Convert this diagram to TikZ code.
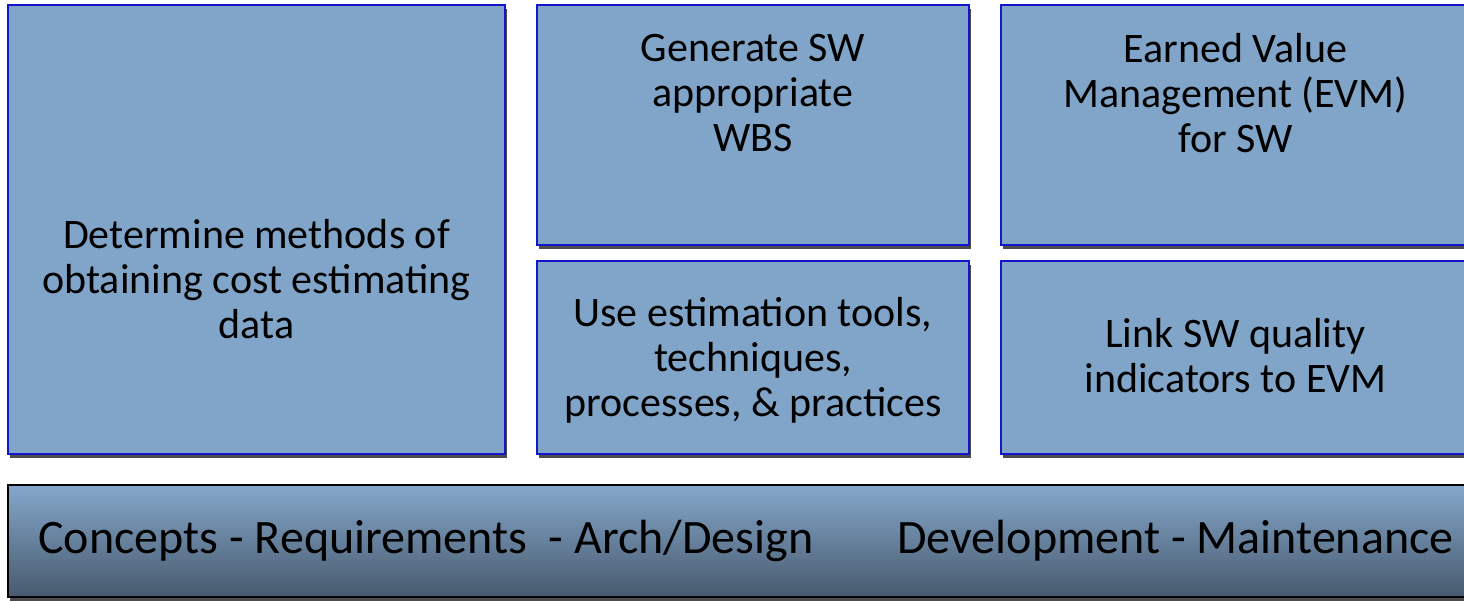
\documentclass[tikz,border=0pt]{standalone}
\usepackage{fontspec}
\setmainfont{Carlito}
\usetikzlibrary{shadows}

\definecolor{boxfill}{RGB}{128,165,200}
\definecolor{boxline}{RGB}{20,20,205}
\definecolor{bandtop}{RGB}{132,167,202}
\definecolor{bandbot}{RGB}{72,90,110}

\tikzset{
  block/.style={draw=boxline, line width=1pt, fill=boxfill, inner sep=0pt,
    drop shadow={shadow xshift=1pt, shadow yshift=-1.8pt, fill=black!70, opacity=1}},
  band/.style={draw=black, line width=1pt, top color=bandtop, bottom color=bandbot, inner sep=0pt,
    drop shadow={shadow xshift=1pt, shadow yshift=-1.8pt, fill=black!70, opacity=1}},
  label/.style={align=center, font=\fontsize{21}{22.5}\selectfont, inner sep=0pt},
  bandlabel/.style={anchor=west, font=\fontsize{24}{28}\selectfont, inner sep=0pt}
}

\begin{document}
\begin{tikzpicture}[x=0.5pt,y=0.5pt,yscale=-1,xscale=1]
\clip (0,0) rectangle (1464,601);
\fill[white] (0,0) rectangle (1464,601);

% boxes
\node[block, minimum width=248.5pt, minimum height=224.5pt] (determine) at (256.5,229.5) {};
\node[block, minimum width=216pt, minimum height=120pt] (wbs) at (753,125) {};
\node[block, minimum width=216pt, minimum height=96.5pt] (tools) at (753,357.5) {};
\node[block, minimum width=234.5pt, minimum height=120pt] (evm) at (1235.5,125) {};
\node[block, minimum width=234.5pt, minimum height=96.5pt] (quality) at (1235.5,357.5) {};
\node[band, minimum width=731pt, minimum height=56pt] (phases) at (739,541) {};

% Text Node
\node[label] (determinetext) at ([yshift=25pt]determine.center) {Determine methods of\\obtaining cost estimating\\data};
% Text Node
\node[label] (wbstext) at ([yshift=-16pt]wbs.center) {Generate SW\\appropriate\\WBS};
% Text Node
\node[label] (toolstext) at ([yshift=1.2pt]tools.center) {Use estimation tools,\\techniques,\\processes, \& practices};
% Text Node
\node[label] (evmtext) at ([yshift=-16pt]evm.center) {Earned Value\\Management (EVM)\\for SW};
% Text Node
\node[label] (qualitytext) at ([yshift=-1pt]quality.center) {Link SW quality\\indicators to EVM};
% Text Node
\node[bandlabel] (lifecycle) at (38,541) {Concepts - Requirements \ - Arch/Design};
% Text Node
\node[bandlabel] (devmaint) at (897,541) {Development - Maintenance};

\end{tikzpicture}
\end{document}
